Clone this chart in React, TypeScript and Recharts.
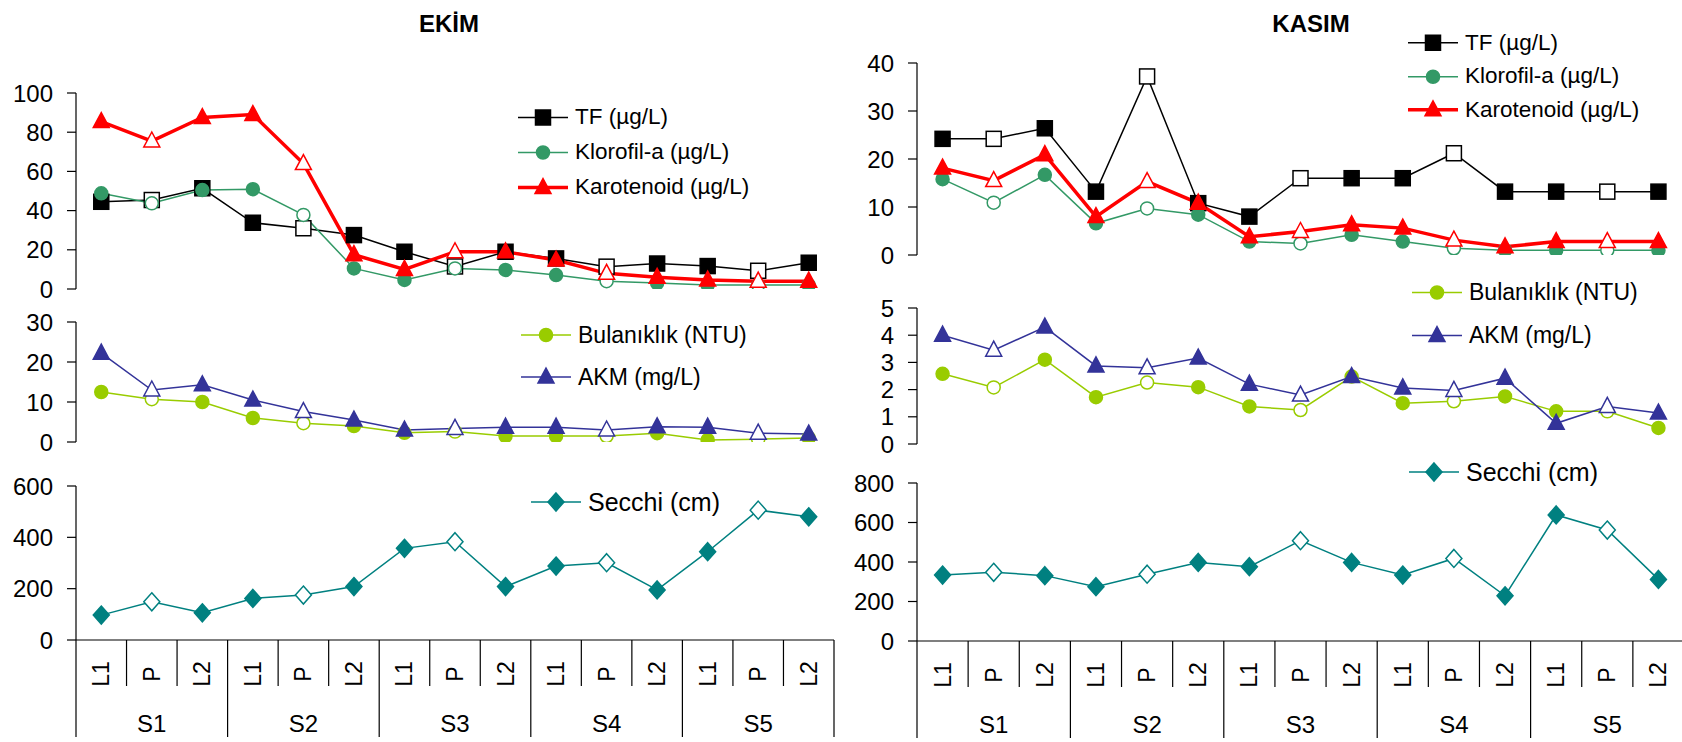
import React from 'react';
import { LineChart, Line, XAxis, YAxis, Legend } from 'recharts';

// ---------- categories ----------
const groups = ['S1', 'S2', 'S3', 'S4', 'S5'];
const subs = ['L1', 'P', 'L2'];

// ---------- EKİM values ----------
const ekimTF = [44.5, 45.4, 51.4, 33.8, 31, 27.5, 19, 11.5, 19, 15.6, 11.4, 13, 11.7, 9.3, 13.4];
const ekimKlorofil = [48.8, 43.7, 50.5, 50.9, 37.8, 10.5, 4.6, 10.5, 9.7, 7.1, 4, 3, 2, 2, 2];
const ekimKarotenoid = [85.4, 75.5, 87.5, 89, 64, 17.5, 10, 19, 19, 14.8, 8, 6, 4.6, 4, 4];
const ekimBulaniklik = [12.5, 10.7, 10, 6, 4.7, 4, 2.3, 2.6, 1.5, 1.5, 1.5, 2.2, 0.5, 0.7, 1];
const ekimAKM = [22.2, 13, 14.3, 10.5, 7.6, 5.5, 3, 3.4, 3.7, 3.7, 3, 3.8, 3.7, 2.2, 2];
const ekimSecchi = [97, 149, 106, 162, 175, 208, 357, 383, 208, 288, 301, 195, 344, 506, 480];

// ---------- KASIM values ----------
const kasimTF = [24.2, 24.2, 26.4, 13.2, 37.2, 10.8, 8, 16, 16, 16, 21.2, 13.2, 13.2, 13.2, 13.2];
const kasimKlorofil = [15.8, 10.9, 16.7, 6.6, 9.7, 8.4, 2.8, 2.4, 4.2, 2.8, 1.4, 1, 1, 1, 1];
const kasimKarotenoid = [18.1, 15.5, 20.9, 8, 15.3, 10.8, 3.8, 4.9, 6.3, 5.6, 3.1, 1.7, 2.8, 2.8, 2.8];
const kasimBulaniklik = [2.58, 2.08, 3.1, 1.72, 2.26, 2.09, 1.38, 1.25, 2.48, 1.5, 1.57, 1.75, 1.2, 1.2, 0.59];
const kasimAKM = [4.0, 3.45, 4.3, 2.87, 2.8, 3.16, 2.2, 1.8, 2.48, 2.06, 1.97, 2.42, 0.76, 1.38, 1.14];
const kasimSecchi = [334, 348, 331, 275, 338, 398, 376, 508, 398, 334, 418, 229, 638, 562, 312];

// ---------- tick labels ----------
const ekimTopTicks = [0, 20, 40, 60, 80, 100];
const ekimMidTicks = [0, 10, 20, 30];
const ekimBotTicks = [0, 200, 400, 600];
const kasimTopTicks = [0, 10, 20, 30, 40];
const kasimMidTicks = [0, 1, 2, 3, 4, 5];
const kasimBotTicks = [0, 200, 400, 600, 800];

const titles = ['EKİM', 'KASIM'];

// ---------- series styles ----------
type SeriesDef = { key: string; name: string; color: string; width: number; shape: string };
const sTF: SeriesDef = { key: 'tf', name: 'TF (µg/L)', color: '#000000', width: 1.5, shape: 'square' };
const sKlo: SeriesDef = { key: 'klo', name: 'Klorofil-a (µg/L)', color: '#339966', width: 1.5, shape: 'circle' };
const sKar: SeriesDef = { key: 'kar', name: 'Karotenoid (µg/L)', color: '#FF0000', width: 3.5, shape: 'triangle' };
const sBul: SeriesDef = { key: 'bul', name: 'Bulanıklık (NTU)', color: '#99CC00', width: 1.5, shape: 'circle' };
const sAKM: SeriesDef = { key: 'akm', name: 'AKM (mg/L)', color: '#333399', width: 1.5, shape: 'triangle' };
const sSec: SeriesDef = { key: 'sec', name: 'Secchi (cm)', color: '#008080', width: 1.5, shape: 'diamond' };

const categories = groups.flatMap((g) => subs.map((s) => `${g}|${s}`));

function buildRows(series: Record<string, number[]>) {
  return categories.map((key, i) => {
    const row: any = { key };
    Object.keys(series).forEach((k) => {
      row[k] = series[k][i];
    });
    return row;
  });
}

const FONT = "'Liberation Sans', Arial, sans-serif";

function Marker({ shape, cx, cy, color, hollow }: any) {
  if (cx == null || cy == null) return null;
  const fill = hollow ? '#ffffff' : color;
  const sw = 1.5;
  if (shape === 'square')
    return <rect x={cx - 7.5} y={cy - 7.5} width={15} height={15} fill={fill} stroke={color} strokeWidth={sw} />;
  if (shape === 'circle') return <circle cx={cx} cy={cy} r={6.5} fill={fill} stroke={color} strokeWidth={sw} />;
  if (shape === 'triangle')
    return (
      <polygon
        points={`${cx},${cy - 9} ${cx + 8},${cy + 6} ${cx - 8},${cy + 6}`}
        fill={fill}
        stroke={color}
        strokeWidth={sw}
      />
    );
  return (
    <polygon
      points={`${cx},${cy - 9} ${cx + 8},${cy} ${cx},${cy + 9} ${cx - 8},${cy}`}
      fill={fill}
      stroke={color}
      strokeWidth={sw}
    />
  );
}

function LegendBox({ items, rowH, gap, fontSize }: { items: SeriesDef[]; rowH: number; gap: number; fontSize: number }) {
  return (
    <div style={{ fontFamily: FONT }}>
      {items.map((s) => (
        <div key={s.key} style={{ height: rowH, display: 'flex', alignItems: 'center', whiteSpace: 'nowrap' }}>
          <svg width={50} height={rowH} style={{ display: 'block', overflow: 'visible' }}>
            <line x1={0} x2={50} y1={rowH / 2} y2={rowH / 2} stroke={s.color} strokeWidth={s.width} />
            <Marker shape={s.shape} cx={25} cy={rowH / 2} color={s.color} hollow={false} />
          </svg>
          <span style={{ marginLeft: gap, fontSize, color: '#000', lineHeight: 1 }}>{s.name}</span>
        </div>
      ))}
    </div>
  );
}

function CategoryTick(props: any) {
  const { x, y, payload, bw } = props;
  const idx: number = payload?.index ?? props.index ?? 0;
  const [g, s] = String(payload?.value ?? '').split('|');
  const shortLen = 46;
  const longLen = 97;
  const right = x + bw / 2;
  const groupEnd = idx % 3 === 2;
  const ly = y + 34;
  return (
    <g>
      {idx === 0 && <line x1={x - bw / 2} x2={x - bw / 2} y1={y} y2={y + longLen} stroke="#000" strokeWidth={1.2} />}
      <line x1={right} x2={right} y1={y} y2={y + (groupEnd ? longLen : shortLen)} stroke="#000" strokeWidth={1.2} />
      <text
        x={x}
        y={ly}
        transform={`rotate(-90 ${x} ${ly})`}
        textAnchor="middle"
        dominantBaseline="central"
        fontSize={23}
        fill="#000"
        fontFamily={FONT}
      >
        {s}
      </text>
      {idx % 3 === 1 && (
        <text x={x} y={y + 83} textAnchor="middle" dominantBaseline="central" fontSize={24} fill="#000" fontFamily={FONT}>
          {g}
        </text>
      )}
    </g>
  );
}

type PanelDef = { left: number; yw: number; width: number; marginRight: number; tickMargin: number };
type SubDef = {
  rows: any[];
  series: SeriesDef[];
  ticks: number[];
  top: number;
  bottom: number;
  withAxis: boolean;
  legend: { x: number; y: number; rowH: number; fontSize: number };
};

function SubChart({ panel, sub }: { panel: PanelDef; sub: SubDef }) {
  const height = sub.withAxis ? 742 : sub.bottom + 24;
  const marginBottom = sub.withAxis ? 0 : 24;
  const xAxisH = sub.withAxis ? 742 - sub.bottom : 0;
  const plotW = panel.width - panel.yw - panel.marginRight;
  const bw = plotW / categories.length;
  const pad = { left: bw / 2, right: bw / 2 };
  const max = sub.ticks[sub.ticks.length - 1];
  const rowH = sub.legend.rowH;
  return (
    <div style={{ position: 'absolute', left: panel.left, top: 0 }}>
      <LineChart
        width={panel.width}
        height={height}
        data={sub.rows}
        margin={{ top: sub.top, right: panel.marginRight, bottom: marginBottom, left: 0 }}
      >
        {sub.withAxis ? (
          <XAxis
            dataKey="key"
            interval={0}
            height={xAxisH}
            padding={pad}
            tickLine={false}
            tickSize={0}
            tickMargin={0}
            axisLine={{ stroke: '#000', strokeWidth: 1.2 }}
            tick={(p: any) => <CategoryTick {...p} bw={bw} />}
          />
        ) : (
          <XAxis dataKey="key" hide padding={pad} />
        )}
        <YAxis
          width={panel.yw}
          type="number"
          domain={[0, max]}
          ticks={sub.ticks}
          interval={0}
          allowDataOverflow
          tickSize={9}
          tickMargin={panel.tickMargin}
          axisLine={{ stroke: '#000', strokeWidth: 1.2 }}
          tickLine={{ stroke: '#000', strokeWidth: 1.2 }}
          tick={{ fill: '#000', fontSize: 24, fontFamily: FONT }}
        />
        <Legend
          layout="vertical"
          align="center"
          verticalAlign="middle"
          wrapperStyle={{
            left: sub.legend.x - panel.left,
            top: sub.legend.y - rowH / 2,
            width: 330,
          }}
          content={() => <LegendBox items={sub.series} rowH={rowH} gap={7} fontSize={sub.legend.fontSize} />}
        />
        {sub.series.map((s) => (
          <Line
            key={s.key}
            type="linear"
            dataKey={s.key}
            name={s.name}
            stroke={s.color}
            strokeWidth={s.width}
            isAnimationActive={false}
            activeDot={false}
            dot={(p: any) => (
              <Marker
                key={`${s.key}-${p.index}`}
                shape={s.shape}
                cx={p.cx}
                cy={p.cy}
                color={s.color}
                hollow={p.index % 3 === 1}
              />
            )}
          />
        ))}
      </LineChart>
    </div>
  );
}

const leftPanel: PanelDef = { left: 0, yw: 76, width: 850, marginRight: 16, tickMargin: 14 };
const rightPanel: PanelDef = { left: 840, yw: 77, width: 850, marginRight: 6, tickMargin: 14 };

const leftSubs: SubDef[] = [
  {
    rows: buildRows({ tf: ekimTF, klo: ekimKlorofil, kar: ekimKarotenoid }),
    series: [sTF, sKlo, sKar],
    ticks: ekimTopTicks,
    top: 93,
    bottom: 289,
    withAxis: false,
    legend: { x: 518, y: 117, rowH: 35, fontSize: 22.5 },
  },
  {
    rows: buildRows({ bul: ekimBulaniklik, akm: ekimAKM }),
    series: [sBul, sAKM],
    ticks: ekimMidTicks,
    top: 322,
    bottom: 442,
    withAxis: false,
    legend: { x: 521, y: 335, rowH: 42, fontSize: 23 },
  },
  {
    rows: buildRows({ sec: ekimSecchi }),
    series: [sSec],
    ticks: ekimBotTicks,
    top: 486,
    bottom: 640,
    withAxis: true,
    legend: { x: 531, y: 502, rowH: 40, fontSize: 25 },
  },
];

const rightSubs: SubDef[] = [
  {
    rows: buildRows({ tf: kasimTF, klo: kasimKlorofil, kar: kasimKarotenoid }),
    series: [sTF, sKlo, sKar],
    ticks: kasimTopTicks,
    top: 63,
    bottom: 255,
    withAxis: false,
    legend: { x: 1408, y: 43, rowH: 33.5, fontSize: 22.5 },
  },
  {
    rows: buildRows({ bul: kasimBulaniklik, akm: kasimAKM }),
    series: [sBul, sAKM],
    ticks: kasimMidTicks,
    top: 308,
    bottom: 444,
    withAxis: false,
    legend: { x: 1412, y: 292, rowH: 43, fontSize: 23 },
  },
  {
    rows: buildRows({ sec: kasimSecchi }),
    series: [sSec],
    ticks: kasimBotTicks,
    top: 483,
    bottom: 641,
    withAxis: true,
    legend: { x: 1409, y: 472, rowH: 40, fontSize: 25 },
  },
];

export default function App() {
  return (
    <div
      style={{
        position: 'fixed',
        left: 0,
        top: 0,
        width: 1682,
        height: 742,
        overflow: 'hidden',
        background: '#fff',
        fontFamily: FONT,
      }}
    >
      {leftSubs.map((s, i) => (
        <SubChart key={`l${i}`} panel={leftPanel} sub={s} />
      ))}
      {rightSubs.map((s, i) => (
        <SubChart key={`r${i}`} panel={rightPanel} sub={s} />
      ))}
      <div
        style={{
          position: 'absolute',
          left: 449,
          top: 24,
          transform: 'translate(-50%, -50%)',
          fontWeight: 'bold',
          fontSize: 24,
          lineHeight: 1,
          whiteSpace: 'nowrap',
        }}
      >
        {titles[0]}
      </div>
      <div
        style={{
          position: 'absolute',
          left: 1311,
          top: 24,
          transform: 'translate(-50%, -50%)',
          fontWeight: 'bold',
          fontSize: 24,
          lineHeight: 1,
          whiteSpace: 'nowrap',
        }}
      >
        {titles[1]}
      </div>
    </div>
  );
}
